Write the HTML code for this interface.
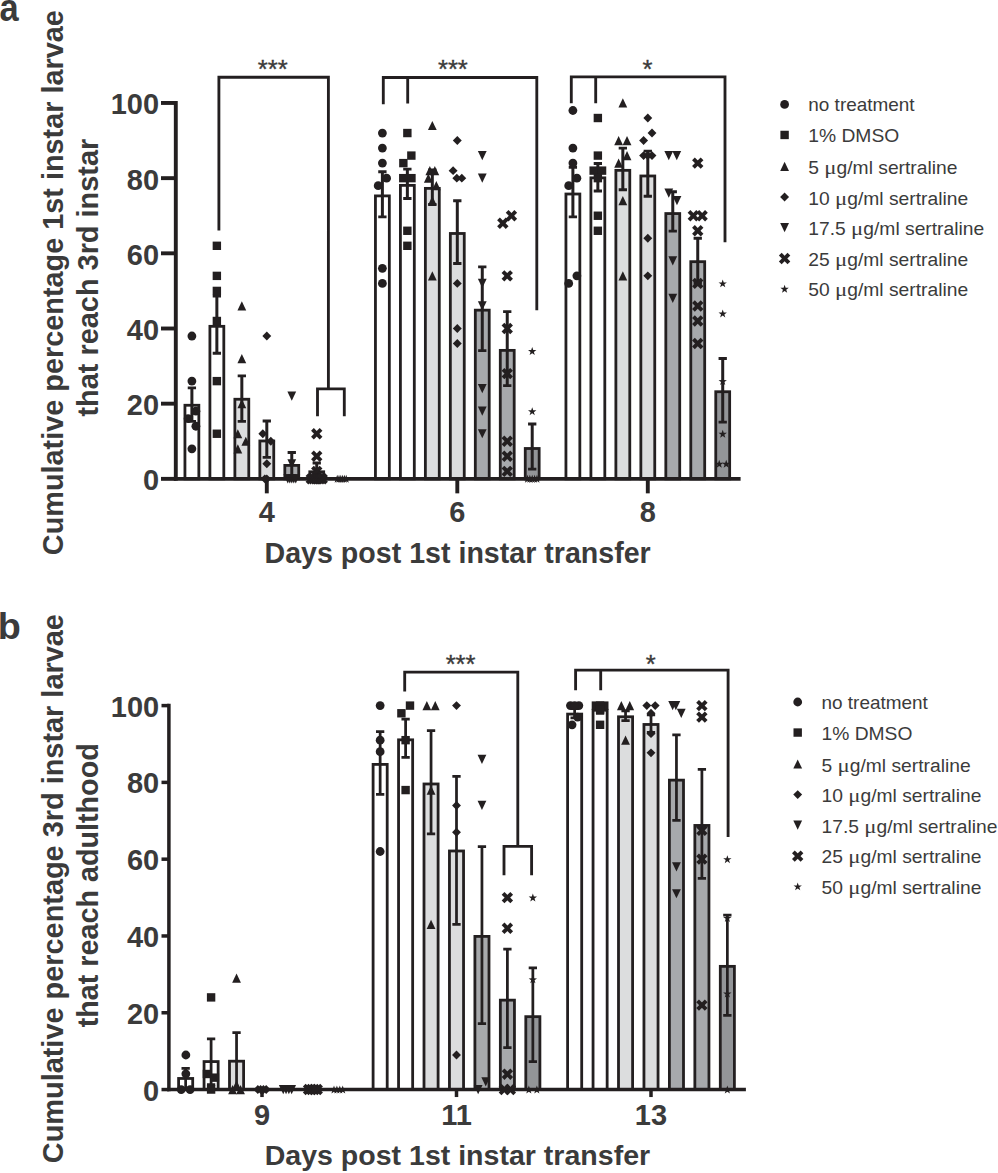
<!DOCTYPE html>
<html><head><meta charset="utf-8"><title>Figure</title>
<style>html,body{margin:0;padding:0;background:#fff}svg{display:block}</style></head>
<body><svg width="998" height="1173" viewBox="0 0 998 1173">
<rect width="998" height="1173" fill="#ffffff"/>
<rect x="184.94" y="405.26" width="13.90" height="73.59" fill="#ffffff" stroke="#231f20" stroke-width="2.8"/>
<rect x="209.91" y="326.33" width="13.90" height="152.52" fill="#ffffff" stroke="#231f20" stroke-width="2.8"/>
<rect x="234.88" y="399.25" width="13.90" height="79.60" fill="#dcddde" stroke="#231f20" stroke-width="2.8"/>
<rect x="259.85" y="440.97" width="13.90" height="37.88" fill="#dcddde" stroke="#231f20" stroke-width="2.8"/>
<rect x="284.82" y="465.40" width="13.90" height="13.45" fill="#a7a9ac" stroke="#231f20" stroke-width="2.8"/>
<rect x="309.79" y="471.79" width="13.90" height="7.06" fill="#a7a9ac" stroke="#231f20" stroke-width="2.8"/>
<rect x="375.44" y="195.90" width="13.90" height="282.95" fill="#ffffff" stroke="#231f20" stroke-width="2.8"/>
<rect x="400.41" y="185.37" width="13.90" height="293.48" fill="#ffffff" stroke="#231f20" stroke-width="2.8"/>
<rect x="425.38" y="188.38" width="13.90" height="290.47" fill="#dcddde" stroke="#231f20" stroke-width="2.8"/>
<rect x="450.35" y="233.48" width="13.90" height="245.37" fill="#dcddde" stroke="#231f20" stroke-width="2.8"/>
<rect x="475.32" y="310.16" width="13.90" height="168.69" fill="#a7a9ac" stroke="#231f20" stroke-width="2.8"/>
<rect x="500.29" y="350.38" width="13.90" height="128.47" fill="#a7a9ac" stroke="#231f20" stroke-width="2.8"/>
<rect x="525.26" y="448.49" width="13.90" height="30.36" fill="#939598" stroke="#231f20" stroke-width="2.8"/>
<rect x="565.94" y="194.02" width="13.90" height="284.83" fill="#ffffff" stroke="#231f20" stroke-width="2.8"/>
<rect x="590.91" y="177.85" width="13.90" height="301.00" fill="#ffffff" stroke="#231f20" stroke-width="2.8"/>
<rect x="615.88" y="170.34" width="13.90" height="308.51" fill="#dcddde" stroke="#231f20" stroke-width="2.8"/>
<rect x="640.85" y="175.98" width="13.90" height="302.87" fill="#dcddde" stroke="#231f20" stroke-width="2.8"/>
<rect x="665.82" y="213.56" width="13.90" height="265.29" fill="#a7a9ac" stroke="#231f20" stroke-width="2.8"/>
<rect x="690.79" y="261.68" width="13.90" height="217.17" fill="#a7a9ac" stroke="#231f20" stroke-width="2.8"/>
<rect x="715.76" y="391.73" width="13.90" height="87.12" fill="#939598" stroke="#231f20" stroke-width="2.8"/>
<g stroke="#231f20" fill="none">
<path stroke-width="3.0" d="M191.89 387.89V421.34"/><path stroke-width="2.9" d="M187.74 387.89H196.04M187.74 421.34H196.04"/>
<path stroke-width="3.0" d="M216.86 296.17V353.31"/><path stroke-width="2.9" d="M212.71 296.17H221.01M212.71 353.31H221.01"/>
<path stroke-width="3.0" d="M241.83 375.86V421.34"/><path stroke-width="2.9" d="M237.68 375.86H245.98M237.68 421.34H245.98"/>
<path stroke-width="3.0" d="M266.80 420.96V457.42"/><path stroke-width="2.9" d="M262.65 420.96H270.95M262.65 457.42H270.95"/>
<path stroke-width="3.0" d="M291.77 452.54V476.97"/><path stroke-width="2.9" d="M287.62 452.54H295.92M287.62 476.97H295.92"/>
<path stroke-width="3.0" d="M316.74 463.06V478.10"/><path stroke-width="2.9" d="M312.59 463.06H320.89M312.59 478.10H320.89"/>
<path stroke-width="3.0" d="M382.39 171.76V216.86"/><path stroke-width="2.9" d="M378.24 171.76H386.54M378.24 216.86H386.54"/>
<path stroke-width="3.0" d="M407.36 169.12V198.44"/><path stroke-width="2.9" d="M403.21 169.12H411.51M403.21 198.44H411.51"/>
<path stroke-width="3.0" d="M432.33 169.88V204.46"/><path stroke-width="2.9" d="M428.18 169.88H436.48M428.18 204.46H436.48"/>
<path stroke-width="3.0" d="M457.30 200.70V263.47"/><path stroke-width="2.9" d="M453.15 200.70H461.45M453.15 263.47H461.45"/>
<path stroke-width="3.0" d="M482.27 266.85V350.67"/><path stroke-width="2.9" d="M478.12 266.85H486.42M478.12 350.67H486.42"/>
<path stroke-width="3.0" d="M507.24 311.58V385.63"/><path stroke-width="2.9" d="M503.09 311.58H511.39M503.09 385.63H511.39"/>
<path stroke-width="3.0" d="M532.21 423.97V469.08"/><path stroke-width="2.9" d="M528.06 423.97H536.36M528.06 469.08H536.36"/>
<path stroke-width="3.0" d="M572.89 167.25V216.86"/><path stroke-width="2.9" d="M568.74 167.25H577.04M568.74 216.86H577.04"/>
<path stroke-width="3.0" d="M597.86 163.49V190.93"/><path stroke-width="2.9" d="M593.71 163.49H602.01M593.71 190.93H602.01"/>
<path stroke-width="3.0" d="M622.83 148.08V189.80"/><path stroke-width="2.9" d="M618.68 148.08H626.98M618.68 189.80H626.98"/>
<path stroke-width="3.0" d="M647.80 151.08V196.19"/><path stroke-width="2.9" d="M643.65 151.08H651.95M643.65 196.19H651.95"/>
<path stroke-width="3.0" d="M672.77 191.68V231.15"/><path stroke-width="2.9" d="M668.62 191.68H676.92M668.62 231.15H676.92"/>
<path stroke-width="3.0" d="M697.74 238.29V283.39"/><path stroke-width="2.9" d="M693.59 238.29H701.89M693.59 283.39H701.89"/>
<path stroke-width="3.0" d="M722.71 358.57V422.09"/><path stroke-width="2.9" d="M718.56 358.57H726.86M718.56 422.09H726.86"/>
</g>
<g stroke="#231f20" stroke-width="3.9" fill="none">
<path d="M175.80 101.02V480.80"/>
<path d="M173.85 478.85H740.60"/>
<path d="M161.00 478.85H175.80"/>
<path d="M161.00 403.67H175.80"/>
<path d="M161.00 328.50H175.80"/>
<path d="M161.00 253.32H175.80"/>
<path d="M161.00 178.15H175.80"/>
<path d="M161.00 102.97H175.80"/>
<path d="M266.80 478.85V493.35"/>
<path d="M457.30 478.85V493.35"/>
<path d="M647.80 478.85V493.35"/>
</g>
<g fill="#231f20">
<circle cx="191.89" cy="336.02" r="4.4"/>
<circle cx="191.89" cy="381.12" r="4.4"/>
<circle cx="195.89" cy="411.19" r="4.4"/>
<circle cx="188.09" cy="418.71" r="4.4"/>
<circle cx="195.89" cy="426.23" r="4.4"/>
<circle cx="191.89" cy="448.78" r="4.4"/>
<rect x="212.66" y="241.60" width="8.4" height="8.4"/>
<rect x="212.66" y="271.67" width="8.4" height="8.4"/>
<rect x="212.66" y="286.71" width="8.4" height="8.4"/>
<rect x="212.66" y="316.78" width="8.4" height="8.4"/>
<rect x="212.66" y="376.92" width="8.4" height="8.4"/>
<rect x="212.66" y="429.54" width="8.4" height="8.4"/>
<path d="M237.43 310.55L246.23 310.55L241.83 301.35Z"/>
<path d="M237.43 363.17L246.23 363.17L241.83 353.97Z"/>
<path d="M237.43 408.27L246.23 408.27L241.83 399.07Z"/>
<path d="M233.43 438.34L242.23 438.34L237.83 429.14Z"/>
<path d="M241.43 445.86L250.23 445.86L245.83 436.66Z"/>
<path d="M233.43 453.38L242.23 453.38L237.83 444.18Z"/>
<path d="M262.35 336.02L266.80 331.57L271.25 336.02L266.80 340.47Z"/>
<path d="M258.35 433.74L262.80 429.29L267.25 433.74L262.80 438.19Z"/>
<path d="M266.35 441.26L270.80 436.81L275.25 441.26L270.80 445.71Z"/>
<path d="M262.35 463.81L266.80 459.36L271.25 463.81L266.80 468.26Z"/>
<path d="M262.35 478.85L266.80 474.40L271.25 478.85L266.80 483.30Z"/>
<path d="M260.35 478.85L264.80 474.40L269.25 478.85L264.80 483.30Z"/>
<path d="M287.37 391.56L296.17 391.56L291.77 400.76Z"/>
<path d="M287.37 459.21L296.17 459.21L291.77 468.41Z"/>
<path d="M283.37 474.25L292.17 474.25L287.77 483.45Z"/>
<path d="M285.37 474.25L294.17 474.25L289.77 483.45Z"/>
<path d="M287.37 474.25L296.17 474.25L291.77 483.45Z"/>
<path d="M289.37 474.25L298.17 474.25L293.77 483.45Z"/>
<path d="M291.37 474.25L300.17 474.25L295.77 483.45Z"/>
<g transform="translate(316.74 433.74) rotate(45)"><rect x="-6.1" y="-1.95" width="12.2" height="3.9"/><rect x="-1.95" y="-6.1" width="3.9" height="12.2"/></g>
<g transform="translate(316.74 456.30) rotate(45)"><rect x="-6.1" y="-1.95" width="12.2" height="3.9"/><rect x="-1.95" y="-6.1" width="3.9" height="12.2"/></g>
<g transform="translate(316.74 471.33) rotate(45)"><rect x="-6.1" y="-1.95" width="12.2" height="3.9"/><rect x="-1.95" y="-6.1" width="3.9" height="12.2"/></g>
<g transform="translate(311.24 478.85) rotate(45)"><rect x="-6.1" y="-1.95" width="12.2" height="3.9"/><rect x="-1.95" y="-6.1" width="3.9" height="12.2"/></g>
<g transform="translate(313.44 478.85) rotate(45)"><rect x="-6.1" y="-1.95" width="12.2" height="3.9"/><rect x="-1.95" y="-6.1" width="3.9" height="12.2"/></g>
<g transform="translate(315.64 478.85) rotate(45)"><rect x="-6.1" y="-1.95" width="12.2" height="3.9"/><rect x="-1.95" y="-6.1" width="3.9" height="12.2"/></g>
<g transform="translate(317.84 478.85) rotate(45)"><rect x="-6.1" y="-1.95" width="12.2" height="3.9"/><rect x="-1.95" y="-6.1" width="3.9" height="12.2"/></g>
<g transform="translate(320.04 478.85) rotate(45)"><rect x="-6.1" y="-1.95" width="12.2" height="3.9"/><rect x="-1.95" y="-6.1" width="3.9" height="12.2"/></g>
<g transform="translate(322.24 478.85) rotate(45)"><rect x="-6.1" y="-1.95" width="12.2" height="3.9"/><rect x="-1.95" y="-6.1" width="3.9" height="12.2"/></g>
<path d="M337.21 474.85L338.24 477.83L341.39 477.89L338.87 479.79L339.80 482.81L337.21 481.00L334.62 482.81L335.55 479.79L333.03 477.89L336.18 477.83Z"/>
<path d="M339.01 474.85L340.04 477.83L343.19 477.89L340.67 479.79L341.60 482.81L339.01 481.00L336.42 482.81L337.35 479.79L334.83 477.89L337.98 477.83Z"/>
<path d="M340.81 474.85L341.84 477.83L344.99 477.89L342.47 479.79L343.40 482.81L340.81 481.00L338.22 482.81L339.15 479.79L336.63 477.89L339.78 477.83Z"/>
<path d="M342.61 474.85L343.64 477.83L346.79 477.89L344.27 479.79L345.20 482.81L342.61 481.00L340.02 482.81L340.95 479.79L338.43 477.89L341.58 477.83Z"/>
<path d="M344.41 474.85L345.44 477.83L348.59 477.89L346.07 479.79L347.00 482.81L344.41 481.00L341.82 482.81L342.75 479.79L340.23 477.89L343.38 477.83Z"/>
<path d="M346.21 474.85L347.24 477.83L350.39 477.89L347.87 479.79L348.80 482.81L346.21 481.00L343.62 482.81L344.55 479.79L342.03 477.89L345.18 477.83Z"/>
<circle cx="382.39" cy="133.04" r="4.4"/>
<circle cx="382.39" cy="148.08" r="4.4"/>
<circle cx="382.39" cy="163.11" r="4.4"/>
<circle cx="386.59" cy="178.15" r="4.4"/>
<circle cx="378.19" cy="185.66" r="4.4"/>
<circle cx="382.39" cy="268.36" r="4.4"/>
<circle cx="382.39" cy="283.39" r="4.4"/>
<rect x="403.16" y="128.84" width="8.4" height="8.4"/>
<rect x="407.16" y="151.39" width="8.4" height="8.4"/>
<rect x="399.16" y="158.91" width="8.4" height="8.4"/>
<rect x="399.06" y="173.95" width="8.4" height="8.4"/>
<rect x="407.26" y="173.95" width="8.4" height="8.4"/>
<rect x="403.16" y="226.57" width="8.4" height="8.4"/>
<rect x="403.16" y="241.60" width="8.4" height="8.4"/>
<path d="M427.93 130.12L436.73 130.12L432.33 120.92Z"/>
<path d="M425.43 175.23L434.23 175.23L429.83 166.03Z"/>
<path d="M430.43 175.23L439.23 175.23L434.83 166.03Z"/>
<path d="M423.93 182.75L432.73 182.75L428.33 173.55Z"/>
<path d="M431.93 190.26L440.73 190.26L436.33 181.06Z"/>
<path d="M427.93 205.30L436.73 205.30L432.33 196.10Z"/>
<path d="M427.93 280.47L436.73 280.47L432.33 271.27Z"/>
<path d="M452.85 140.56L457.30 136.11L461.75 140.56L457.30 145.01Z"/>
<path d="M448.65 170.63L453.10 166.18L457.55 170.63L453.10 175.08Z"/>
<path d="M452.35 178.15L456.80 173.70L461.25 178.15L456.80 182.60Z"/>
<path d="M457.35 178.15L461.80 173.70L466.25 178.15L461.80 182.60Z"/>
<path d="M452.85 283.39L457.30 278.94L461.75 283.39L457.30 287.84Z"/>
<path d="M452.85 328.50L457.30 324.05L461.75 328.50L457.30 332.95Z"/>
<path d="M452.85 343.53L457.30 339.08L461.75 343.53L457.30 347.98Z"/>
<path d="M477.87 150.99L486.67 150.99L482.27 160.19Z"/>
<path d="M477.87 173.55L486.67 173.55L482.27 182.75Z"/>
<path d="M477.87 278.79L486.67 278.79L482.27 287.99Z"/>
<path d="M477.87 301.35L486.67 301.35L482.27 310.55Z"/>
<path d="M477.87 384.04L486.67 384.04L482.27 393.24Z"/>
<path d="M477.87 406.59L486.67 406.59L482.27 415.79Z"/>
<path d="M477.87 429.14L486.67 429.14L482.27 438.34Z"/>
<g transform="translate(511.44 215.73) rotate(45)"><rect x="-6.1" y="-1.95" width="12.2" height="3.9"/><rect x="-1.95" y="-6.1" width="3.9" height="12.2"/></g>
<g transform="translate(502.84 223.25) rotate(45)"><rect x="-6.1" y="-1.95" width="12.2" height="3.9"/><rect x="-1.95" y="-6.1" width="3.9" height="12.2"/></g>
<g transform="translate(507.24 275.87) rotate(45)"><rect x="-6.1" y="-1.95" width="12.2" height="3.9"/><rect x="-1.95" y="-6.1" width="3.9" height="12.2"/></g>
<g transform="translate(507.24 328.50) rotate(45)"><rect x="-6.1" y="-1.95" width="12.2" height="3.9"/><rect x="-1.95" y="-6.1" width="3.9" height="12.2"/></g>
<g transform="translate(507.24 373.60) rotate(45)"><rect x="-6.1" y="-1.95" width="12.2" height="3.9"/><rect x="-1.95" y="-6.1" width="3.9" height="12.2"/></g>
<g transform="translate(507.24 441.26) rotate(45)"><rect x="-6.1" y="-1.95" width="12.2" height="3.9"/><rect x="-1.95" y="-6.1" width="3.9" height="12.2"/></g>
<g transform="translate(507.24 456.30) rotate(45)"><rect x="-6.1" y="-1.95" width="12.2" height="3.9"/><rect x="-1.95" y="-6.1" width="3.9" height="12.2"/></g>
<g transform="translate(507.24 471.33) rotate(45)"><rect x="-6.1" y="-1.95" width="12.2" height="3.9"/><rect x="-1.95" y="-6.1" width="3.9" height="12.2"/></g>
<path d="M532.21 347.05L533.24 350.04L536.39 350.09L533.87 351.99L534.80 355.01L532.21 353.20L529.62 355.01L530.55 351.99L528.03 350.09L531.18 350.04Z"/>
<path d="M532.21 407.19L533.24 410.18L536.39 410.23L533.87 412.13L534.80 415.15L532.21 413.34L529.62 415.15L530.55 412.13L528.03 410.23L531.18 410.18Z"/>
<path d="M527.46 474.85L528.49 477.83L531.64 477.89L529.12 479.79L530.05 482.81L527.46 481.00L524.87 482.81L525.80 479.79L523.28 477.89L526.43 477.83Z"/>
<path d="M529.84 474.85L530.86 477.83L534.02 477.89L531.50 479.79L532.42 482.81L529.84 481.00L527.25 482.81L528.17 479.79L525.65 477.89L528.81 477.83Z"/>
<path d="M532.21 474.85L533.24 477.83L536.39 477.89L533.87 479.79L534.80 482.81L532.21 481.00L529.62 482.81L530.55 479.79L528.03 477.89L531.18 477.83Z"/>
<path d="M534.59 474.85L535.61 477.83L538.77 477.89L536.25 479.79L537.17 482.81L534.59 481.00L532.00 482.81L532.92 479.79L530.40 477.89L533.56 477.83Z"/>
<path d="M536.96 474.85L537.99 477.83L541.14 477.89L538.62 479.79L539.55 482.81L536.96 481.00L534.37 482.81L535.30 479.79L532.78 477.89L535.93 477.83Z"/>
<circle cx="572.89" cy="110.49" r="4.4"/>
<circle cx="572.89" cy="148.08" r="4.4"/>
<circle cx="572.89" cy="163.11" r="4.4"/>
<circle cx="576.89" cy="178.15" r="4.4"/>
<circle cx="568.69" cy="185.66" r="4.4"/>
<circle cx="576.89" cy="275.87" r="4.4"/>
<circle cx="568.69" cy="283.39" r="4.4"/>
<rect x="593.66" y="113.81" width="8.4" height="8.4"/>
<rect x="593.66" y="151.39" width="8.4" height="8.4"/>
<rect x="589.46" y="166.43" width="8.4" height="8.4"/>
<rect x="597.86" y="166.43" width="8.4" height="8.4"/>
<rect x="593.66" y="173.95" width="8.4" height="8.4"/>
<rect x="593.66" y="211.53" width="8.4" height="8.4"/>
<rect x="593.66" y="226.57" width="8.4" height="8.4"/>
<path d="M618.43 107.57L627.23 107.57L622.83 98.37Z"/>
<path d="M614.23 145.16L623.03 145.16L618.63 135.96Z"/>
<path d="M622.63 145.16L631.43 145.16L627.03 135.96Z"/>
<path d="M622.63 160.19L631.43 160.19L627.03 150.99Z"/>
<path d="M614.23 167.71L623.03 167.71L618.63 158.51Z"/>
<path d="M618.43 205.30L627.23 205.30L622.83 196.10Z"/>
<path d="M618.43 280.47L627.23 280.47L622.83 271.27Z"/>
<path d="M643.35 118.01L647.80 113.56L652.25 118.01L647.80 122.46Z"/>
<path d="M647.55 133.04L652.00 128.59L656.45 133.04L652.00 137.49Z"/>
<path d="M639.15 140.56L643.60 136.11L648.05 140.56L643.60 145.01Z"/>
<path d="M639.15 155.59L643.60 151.14L648.05 155.59L643.60 160.04Z"/>
<path d="M647.55 155.59L652.00 151.14L656.45 155.59L652.00 160.04Z"/>
<path d="M643.35 155.59L647.80 151.14L652.25 155.59L647.80 160.04Z"/>
<path d="M643.35 238.29L647.80 233.84L652.25 238.29L647.80 242.74Z"/>
<path d="M643.35 275.87L647.80 271.42L652.25 275.87L647.80 280.32Z"/>
<path d="M664.37 150.99L673.17 150.99L668.77 160.19Z"/>
<path d="M672.37 150.99L681.17 150.99L676.77 160.19Z"/>
<path d="M664.37 188.58L673.17 188.58L668.77 197.78Z"/>
<path d="M672.57 196.10L681.37 196.10L676.97 205.30Z"/>
<path d="M668.37 256.24L677.17 256.24L672.77 265.44Z"/>
<path d="M668.37 293.83L677.17 293.83L672.77 303.03Z"/>
<g transform="translate(697.74 163.11) rotate(45)"><rect x="-6.1" y="-1.95" width="12.2" height="3.9"/><rect x="-1.95" y="-6.1" width="3.9" height="12.2"/></g>
<g transform="translate(693.34 215.73) rotate(45)"><rect x="-6.1" y="-1.95" width="12.2" height="3.9"/><rect x="-1.95" y="-6.1" width="3.9" height="12.2"/></g>
<g transform="translate(702.14 215.73) rotate(45)"><rect x="-6.1" y="-1.95" width="12.2" height="3.9"/><rect x="-1.95" y="-6.1" width="3.9" height="12.2"/></g>
<g transform="translate(697.74 230.77) rotate(45)"><rect x="-6.1" y="-1.95" width="12.2" height="3.9"/><rect x="-1.95" y="-6.1" width="3.9" height="12.2"/></g>
<g transform="translate(697.74 283.39) rotate(45)"><rect x="-6.1" y="-1.95" width="12.2" height="3.9"/><rect x="-1.95" y="-6.1" width="3.9" height="12.2"/></g>
<g transform="translate(697.74 305.95) rotate(45)"><rect x="-6.1" y="-1.95" width="12.2" height="3.9"/><rect x="-1.95" y="-6.1" width="3.9" height="12.2"/></g>
<g transform="translate(697.74 320.98) rotate(45)"><rect x="-6.1" y="-1.95" width="12.2" height="3.9"/><rect x="-1.95" y="-6.1" width="3.9" height="12.2"/></g>
<g transform="translate(697.74 343.53) rotate(45)"><rect x="-6.1" y="-1.95" width="12.2" height="3.9"/><rect x="-1.95" y="-6.1" width="3.9" height="12.2"/></g>
<path d="M722.71 279.39L723.74 282.38L726.89 282.43L724.37 284.33L725.30 287.35L722.71 285.54L720.12 287.35L721.05 284.33L718.53 282.43L721.68 282.38Z"/>
<path d="M722.71 309.46L723.74 312.45L726.89 312.50L724.37 314.40L725.30 317.42L722.71 315.61L720.12 317.42L721.05 314.40L718.53 312.50L721.68 312.45Z"/>
<path d="M722.71 377.12L723.74 380.11L726.89 380.16L724.37 382.06L725.30 385.08L722.71 383.27L720.12 385.08L721.05 382.06L718.53 380.16L721.68 380.11Z"/>
<path d="M722.71 429.74L723.74 432.73L726.89 432.78L724.37 434.69L725.30 437.70L722.71 435.89L720.12 437.70L721.05 434.69L718.53 432.78L721.68 432.73Z"/>
<path d="M719.21 459.81L720.24 462.80L723.39 462.86L720.87 464.76L721.80 467.77L719.21 465.96L716.62 467.77L717.55 464.76L715.03 462.86L718.18 462.80Z"/>
<path d="M726.21 459.81L727.24 462.80L730.39 462.86L727.87 464.76L728.80 467.77L726.21 465.96L723.62 467.77L724.55 464.76L722.03 462.86L725.18 462.80Z"/>
</g>
<g stroke="#231f20" stroke-width="2.85" fill="none" stroke-linejoin="miter">
<path d="M218.9 230.5V77.2H328.4V388.8M317.5 416.3V388.8H344.3V416.3"/>
<path d="M383.3 104.2V77.5H536.8V310.3M407.7 77.5V103.5"/>
<path d="M571.3 103.3V76.9H725V242.3M595.7 76.9V103.3"/>
</g>
<g font-family="Liberation Sans, sans-serif" font-weight="bold" font-size="29.0" fill="#3b3b3b">
<text transform="translate(159.10 490.35) scale(1 1.025)" text-anchor="end">0</text>
<text transform="translate(159.10 415.17) scale(1 1.025)" text-anchor="end">20</text>
<text transform="translate(159.10 340.00) scale(1 1.025)" text-anchor="end">40</text>
<text transform="translate(159.10 264.82) scale(1 1.025)" text-anchor="end">60</text>
<text transform="translate(159.10 189.65) scale(1 1.025)" text-anchor="end">80</text>
<text transform="translate(159.10 114.47) scale(1 1.025)" text-anchor="end">100</text>
<text transform="translate(266.80 521.80) scale(1 1.025)" text-anchor="middle">4</text>
<text transform="translate(457.30 521.80) scale(1 1.025)" text-anchor="middle">6</text>
<text transform="translate(647.80 521.80) scale(1 1.025)" text-anchor="middle">8</text>
</g>
<rect x="178.60" y="1078.47" width="14.10" height="11.08" fill="#ffffff" stroke="#231f20" stroke-width="2.8"/>
<rect x="204.05" y="1061.58" width="14.10" height="27.97" fill="#ffffff" stroke="#231f20" stroke-width="2.8"/>
<rect x="229.50" y="1061.19" width="14.10" height="28.36" fill="#dcddde" stroke="#231f20" stroke-width="2.8"/>
<rect x="373.10" y="764.40" width="14.10" height="325.15" fill="#ffffff" stroke="#231f20" stroke-width="2.8"/>
<rect x="398.55" y="739.83" width="14.10" height="349.72" fill="#ffffff" stroke="#231f20" stroke-width="2.8"/>
<rect x="424.00" y="783.98" width="14.10" height="305.57" fill="#dcddde" stroke="#231f20" stroke-width="2.8"/>
<rect x="449.45" y="850.98" width="14.10" height="238.57" fill="#dcddde" stroke="#231f20" stroke-width="2.8"/>
<rect x="474.90" y="936.41" width="14.10" height="153.14" fill="#a7a9ac" stroke="#231f20" stroke-width="2.8"/>
<rect x="500.35" y="1000.15" width="14.10" height="89.40" fill="#a7a9ac" stroke="#231f20" stroke-width="2.8"/>
<rect x="525.80" y="1016.66" width="14.10" height="72.89" fill="#939598" stroke="#231f20" stroke-width="2.8"/>
<rect x="567.60" y="714.10" width="14.10" height="375.45" fill="#ffffff" stroke="#231f20" stroke-width="2.8"/>
<rect x="593.05" y="710.26" width="14.10" height="379.29" fill="#ffffff" stroke="#231f20" stroke-width="2.8"/>
<rect x="618.50" y="716.79" width="14.10" height="372.76" fill="#dcddde" stroke="#231f20" stroke-width="2.8"/>
<rect x="643.95" y="724.47" width="14.10" height="365.08" fill="#dcddde" stroke="#231f20" stroke-width="2.8"/>
<rect x="669.40" y="780.14" width="14.10" height="309.41" fill="#a7a9ac" stroke="#231f20" stroke-width="2.8"/>
<rect x="694.85" y="825.45" width="14.10" height="264.10" fill="#a7a9ac" stroke="#231f20" stroke-width="2.8"/>
<rect x="720.30" y="966.36" width="14.10" height="123.19" fill="#939598" stroke="#231f20" stroke-width="2.8"/>
<g stroke="#231f20" fill="none">
<path stroke-width="2.75" d="M185.65 1068.43V1088.40"/><path stroke-width="2.75" d="M181.50 1068.43H189.80M181.50 1088.40H189.80"/>
<path stroke-width="2.75" d="M211.10 1038.87V1084.56"/><path stroke-width="2.75" d="M206.95 1038.87H215.25M206.95 1084.56H215.25"/>
<path stroke-width="2.75" d="M236.55 1032.53V1088.78"/><path stroke-width="2.75" d="M232.40 1032.53H240.70M232.40 1088.78H240.70"/>
<path stroke-width="2.75" d="M380.15 731.71V794.29"/><path stroke-width="2.75" d="M376.00 731.71H384.30M376.00 794.29H384.30"/>
<path stroke-width="2.75" d="M405.60 719.04V757.43"/><path stroke-width="2.75" d="M401.45 719.04H409.75M401.45 757.43H409.75"/>
<path stroke-width="2.75" d="M431.05 730.56V833.84"/><path stroke-width="2.75" d="M426.90 730.56H435.20M426.90 833.84H435.20"/>
<path stroke-width="2.75" d="M456.50 776.25V924.45"/><path stroke-width="2.75" d="M452.35 776.25H460.65M452.35 924.45H460.65"/>
<path stroke-width="2.75" d="M481.95 846.51V1023.51"/><path stroke-width="2.75" d="M477.80 846.51H486.10M477.80 1023.51H486.10"/>
<path stroke-width="2.75" d="M507.40 949.02V1047.70"/><path stroke-width="2.75" d="M503.25 949.02H511.55M503.25 1047.70H511.55"/>
<path stroke-width="2.75" d="M532.85 967.84V1061.52"/><path stroke-width="2.75" d="M528.70 967.84H537.00M528.70 1061.52H537.00"/>
<path stroke-width="2.75" d="M574.65 708.67V717.89"/><path stroke-width="2.75" d="M570.50 708.67H578.80M570.50 717.89H578.80"/>
<path stroke-width="2.75" d="M600.10 705.60V713.28"/><path stroke-width="2.75" d="M595.95 705.60H604.25M595.95 713.28H604.25"/>
<path stroke-width="2.75" d="M625.55 710.98V720.57"/><path stroke-width="2.75" d="M621.40 710.98H629.70M621.40 720.57H629.70"/>
<path stroke-width="2.75" d="M651.00 714.81V732.48"/><path stroke-width="2.75" d="M646.85 714.81H655.15M646.85 732.48H655.15"/>
<path stroke-width="2.75" d="M676.45 734.78V820.40"/><path stroke-width="2.75" d="M672.30 734.78H680.60M672.30 820.40H680.60"/>
<path stroke-width="2.75" d="M701.90 769.34V878.38"/><path stroke-width="2.75" d="M697.75 769.34H706.05M697.75 878.38H706.05"/>
<path stroke-width="2.75" d="M727.35 915.24V1015.45"/><path stroke-width="2.75" d="M723.20 915.24H731.50M723.20 1015.45H731.50"/>
</g>
<g stroke="#231f20" stroke-width="3.5" fill="none">
<path d="M168.90 703.85V1091.30"/>
<path d="M167.15 1089.55H745.90"/>
<path d="M161.50 1089.55H168.90"/>
<path d="M161.50 1012.76H168.90"/>
<path d="M161.50 935.97H168.90"/>
<path d="M161.50 859.18H168.90"/>
<path d="M161.50 782.39H168.90"/>
<path d="M161.50 705.60H168.90"/>
<path d="M262.00 1089.55V1097.05"/>
<path d="M456.50 1089.55V1097.05"/>
<path d="M651.00 1089.55V1097.05"/>
</g>
<g fill="#231f20">
<circle cx="185.85" cy="1054.99" r="4.4"/>
<circle cx="185.85" cy="1073.81" r="4.4"/>
<circle cx="181.20" cy="1089.55" r="4.4"/>
<circle cx="190.10" cy="1089.55" r="4.4"/>
<rect x="206.90" y="993.20" width="8.4" height="8.4"/>
<rect x="202.70" y="1069.80" width="8.4" height="8.4"/>
<rect x="210.70" y="1073.45" width="8.4" height="8.4"/>
<rect x="206.90" y="1085.35" width="8.4" height="8.4"/>
<path d="M232.15 982.80L240.95 982.80L236.55 973.60Z"/>
<path d="M228.15 1094.15L236.95 1094.15L232.55 1084.95Z"/>
<path d="M236.15 1094.15L244.95 1094.15L240.55 1084.95Z"/>
<path d="M232.15 1089.54L240.95 1089.54L236.55 1080.34Z"/>
<path d="M253.35 1089.55L257.80 1085.10L262.25 1089.55L257.80 1094.00Z"/>
<path d="M256.15 1089.55L260.60 1085.10L265.05 1089.55L260.60 1094.00Z"/>
<path d="M258.95 1089.55L263.40 1085.10L267.85 1089.55L263.40 1094.00Z"/>
<path d="M261.75 1089.55L266.20 1085.10L270.65 1089.55L266.20 1094.00Z"/>
<path d="M278.85 1084.95L287.65 1084.95L283.25 1094.15Z"/>
<path d="M281.65 1084.95L290.45 1084.95L286.05 1094.15Z"/>
<path d="M284.45 1084.95L293.25 1084.95L288.85 1094.15Z"/>
<path d="M287.25 1084.95L296.05 1084.95L291.65 1094.15Z"/>
<g transform="translate(308.55 1089.55) rotate(45)"><rect x="-6.1" y="-1.95" width="12.2" height="3.9"/><rect x="-1.95" y="-6.1" width="3.9" height="12.2"/></g>
<g transform="translate(311.45 1089.55) rotate(45)"><rect x="-6.1" y="-1.95" width="12.2" height="3.9"/><rect x="-1.95" y="-6.1" width="3.9" height="12.2"/></g>
<g transform="translate(314.35 1089.55) rotate(45)"><rect x="-6.1" y="-1.95" width="12.2" height="3.9"/><rect x="-1.95" y="-6.1" width="3.9" height="12.2"/></g>
<g transform="translate(317.25 1089.55) rotate(45)"><rect x="-6.1" y="-1.95" width="12.2" height="3.9"/><rect x="-1.95" y="-6.1" width="3.9" height="12.2"/></g>
<path d="M334.00 1085.55L335.03 1088.53L338.18 1088.59L335.66 1090.49L336.59 1093.51L334.00 1091.70L331.41 1093.51L332.34 1090.49L329.82 1088.59L332.97 1088.53Z"/>
<path d="M336.90 1085.55L337.93 1088.53L341.08 1088.59L338.56 1090.49L339.49 1093.51L336.90 1091.70L334.31 1093.51L335.24 1090.49L332.72 1088.59L335.87 1088.53Z"/>
<path d="M339.80 1085.55L340.83 1088.53L343.98 1088.59L341.46 1090.49L342.39 1093.51L339.80 1091.70L337.21 1093.51L338.14 1090.49L335.62 1088.59L338.77 1088.53Z"/>
<path d="M342.70 1085.55L343.73 1088.53L346.88 1088.59L344.36 1090.49L345.29 1093.51L342.70 1091.70L340.11 1093.51L341.04 1090.49L338.52 1088.59L341.67 1088.53Z"/>
<circle cx="380.15" cy="705.60" r="4.4"/>
<circle cx="380.15" cy="740.16" r="4.4"/>
<circle cx="380.15" cy="751.67" r="4.4"/>
<circle cx="380.15" cy="851.50" r="4.4"/>
<rect x="405.80" y="701.40" width="8.4" height="8.4"/>
<rect x="397.20" y="709.08" width="8.4" height="8.4"/>
<rect x="401.40" y="735.96" width="8.4" height="8.4"/>
<rect x="401.40" y="785.87" width="8.4" height="8.4"/>
<path d="M422.45 710.20L431.25 710.20L426.85 701.00Z"/>
<path d="M430.85 710.20L439.65 710.20L435.25 701.00Z"/>
<path d="M426.65 794.67L435.45 794.67L431.05 785.47Z"/>
<path d="M426.65 929.05L435.45 929.05L431.05 919.85Z"/>
<path d="M452.05 705.60L456.50 701.15L460.95 705.60L456.50 710.05Z"/>
<path d="M452.05 805.43L456.50 800.98L460.95 805.43L456.50 809.88Z"/>
<path d="M452.05 832.30L456.50 827.85L460.95 832.30L456.50 836.75Z"/>
<path d="M452.05 1054.99L456.50 1050.54L460.95 1054.99L456.50 1059.44Z"/>
<path d="M477.55 754.75L486.35 754.75L481.95 763.95Z"/>
<path d="M477.55 800.83L486.35 800.83L481.95 810.03Z"/>
<path d="M481.35 1077.27L490.15 1077.27L485.75 1086.47Z"/>
<path d="M473.75 1084.95L482.55 1084.95L478.15 1094.15Z"/>
<g transform="translate(507.40 897.57) rotate(45)"><rect x="-6.1" y="-1.95" width="12.2" height="3.9"/><rect x="-1.95" y="-6.1" width="3.9" height="12.2"/></g>
<g transform="translate(507.40 928.29) rotate(45)"><rect x="-6.1" y="-1.95" width="12.2" height="3.9"/><rect x="-1.95" y="-6.1" width="3.9" height="12.2"/></g>
<g transform="translate(507.40 1074.19) rotate(45)"><rect x="-6.1" y="-1.95" width="12.2" height="3.9"/><rect x="-1.95" y="-6.1" width="3.9" height="12.2"/></g>
<g transform="translate(504.40 1089.55) rotate(45)"><rect x="-6.1" y="-1.95" width="12.2" height="3.9"/><rect x="-1.95" y="-6.1" width="3.9" height="12.2"/></g>
<g transform="translate(510.40 1089.55) rotate(45)"><rect x="-6.1" y="-1.95" width="12.2" height="3.9"/><rect x="-1.95" y="-6.1" width="3.9" height="12.2"/></g>
<path d="M532.85 893.57L533.88 896.56L537.03 896.62L534.51 898.52L535.44 901.53L532.85 899.72L530.26 901.53L531.19 898.52L528.67 896.62L531.82 896.56Z"/>
<path d="M532.85 975.36L533.88 978.34L537.03 978.40L534.51 980.30L535.44 983.32L532.85 981.51L530.26 983.32L531.19 980.30L528.67 978.40L531.82 978.34Z"/>
<path d="M528.85 1085.55L529.88 1088.53L533.03 1088.59L530.51 1090.49L531.44 1093.51L528.85 1091.70L526.26 1093.51L527.19 1090.49L524.67 1088.59L527.82 1088.53Z"/>
<path d="M536.85 1085.55L537.88 1088.53L541.03 1088.59L538.51 1090.49L539.44 1093.51L536.85 1091.70L534.26 1093.51L535.19 1090.49L532.67 1088.59L535.82 1088.53Z"/>
<circle cx="570.45" cy="705.60" r="4.4"/>
<circle cx="578.85" cy="705.60" r="4.4"/>
<circle cx="574.65" cy="705.60" r="4.4"/>
<circle cx="577.65" cy="717.12" r="4.4"/>
<circle cx="572.05" cy="724.80" r="4.4"/>
<rect x="591.70" y="701.40" width="8.4" height="8.4"/>
<rect x="600.10" y="701.40" width="8.4" height="8.4"/>
<rect x="595.90" y="701.40" width="8.4" height="8.4"/>
<rect x="595.90" y="705.24" width="8.4" height="8.4"/>
<rect x="595.90" y="720.60" width="8.4" height="8.4"/>
<path d="M616.95 710.20L625.75 710.20L621.35 701.00Z"/>
<path d="M625.35 710.20L634.15 710.20L629.75 701.00Z"/>
<path d="M621.15 744.76L629.95 744.76L625.55 735.56Z"/>
<path d="M642.35 705.60L646.80 701.15L651.25 705.60L646.80 710.05Z"/>
<path d="M650.75 705.60L655.20 701.15L659.65 705.60L655.20 710.05Z"/>
<path d="M646.55 713.28L651.00 708.83L655.45 713.28L651.00 717.73Z"/>
<path d="M646.55 733.63L651.00 729.18L655.45 733.63L651.00 738.08Z"/>
<path d="M646.55 752.83L651.00 748.38L655.45 752.83L651.00 757.28Z"/>
<path d="M668.25 701.00L677.05 701.00L672.65 710.20Z"/>
<path d="M671.45 701.00L680.25 701.00L675.85 710.20Z"/>
<path d="M676.85 708.68L685.65 708.68L681.25 717.88Z"/>
<path d="M672.05 862.26L680.85 862.26L676.45 871.46Z"/>
<path d="M672.05 889.14L680.85 889.14L676.45 898.34Z"/>
<g transform="translate(701.90 705.60) rotate(45)"><rect x="-6.1" y="-1.95" width="12.2" height="3.9"/><rect x="-1.95" y="-6.1" width="3.9" height="12.2"/></g>
<g transform="translate(701.90 717.12) rotate(45)"><rect x="-6.1" y="-1.95" width="12.2" height="3.9"/><rect x="-1.95" y="-6.1" width="3.9" height="12.2"/></g>
<g transform="translate(701.90 830.38) rotate(45)"><rect x="-6.1" y="-1.95" width="12.2" height="3.9"/><rect x="-1.95" y="-6.1" width="3.9" height="12.2"/></g>
<g transform="translate(701.90 859.18) rotate(45)"><rect x="-6.1" y="-1.95" width="12.2" height="3.9"/><rect x="-1.95" y="-6.1" width="3.9" height="12.2"/></g>
<g transform="translate(701.90 1005.08) rotate(45)"><rect x="-6.1" y="-1.95" width="12.2" height="3.9"/><rect x="-1.95" y="-6.1" width="3.9" height="12.2"/></g>
<path d="M727.35 855.18L728.38 858.16L731.53 858.22L729.01 860.12L729.94 863.14L727.35 861.33L724.76 863.14L725.69 860.12L723.17 858.22L726.32 858.16Z"/>
<path d="M727.35 913.92L728.38 916.91L731.53 916.96L729.01 918.87L729.94 921.88L727.35 920.07L724.76 921.88L725.69 918.87L723.17 916.96L726.32 916.91Z"/>
<path d="M727.35 989.56L728.38 992.55L731.53 992.60L729.01 994.50L729.94 997.52L727.35 995.71L724.76 997.52L725.69 994.50L723.17 992.60L726.32 992.55Z"/>
<path d="M727.35 1085.55L728.38 1088.53L731.53 1088.59L729.01 1090.49L729.94 1093.51L727.35 1091.70L724.76 1093.51L725.69 1090.49L723.17 1088.59L726.32 1088.53Z"/>
</g>
<g stroke="#231f20" stroke-width="2.85" fill="none" stroke-linejoin="miter">
<path d="M404.7 691.6V672.1H517.8V846.3M504.0 875.2V846.3H531.6V875.2"/>
<path d="M575.6 690.2V670.1H728.1V837M600.7 670.1V690.2"/>
</g>
<g font-family="Liberation Sans, sans-serif" font-weight="bold" font-size="29.0" fill="#3b3b3b">
<text transform="translate(159.20 1100.55) scale(1 1.04)" text-anchor="end">0</text>
<text transform="translate(159.20 1023.76) scale(1 1.04)" text-anchor="end">20</text>
<text transform="translate(159.20 946.97) scale(1 1.04)" text-anchor="end">40</text>
<text transform="translate(159.20 870.18) scale(1 1.04)" text-anchor="end">60</text>
<text transform="translate(159.20 793.39) scale(1 1.04)" text-anchor="end">80</text>
<text transform="translate(159.20 716.60) scale(1 1.04)" text-anchor="end">100</text>
<text transform="translate(262.00 1125.00) scale(1 1.04)" text-anchor="middle">9</text>
<text transform="translate(456.50 1125.00) scale(1 1.04)" text-anchor="middle">11</text>
<text transform="translate(651.00 1125.00) scale(1 1.04)" text-anchor="middle">13</text>
</g>
<g fill="#231f20">
<circle cx="784.60" cy="104.40" r="4.4"/>
<rect x="780.40" y="130.75" width="8.4" height="8.4"/>
<path d="M780.20 171.00L789.00 171.00L784.60 161.80Z"/>
<path d="M780.15 197.00L784.60 192.55L789.05 197.00L784.60 201.45Z"/>
<path d="M780.20 223.00L789.00 223.00L784.60 232.20Z"/>
<g transform="translate(784.60 258.50) rotate(45)"><rect x="-6.1" y="-1.95" width="12.2" height="3.9"/><rect x="-1.95" y="-6.1" width="3.9" height="12.2"/></g>
<path d="M784.60 284.80L785.63 287.78L788.78 287.84L786.26 289.74L787.19 292.76L784.60 290.95L782.01 292.76L782.94 289.74L780.42 287.84L783.57 287.78Z"/>
</g>
<g font-family="Liberation Sans, sans-serif" font-size="19.25" fill="#3b3b3b">
<text x="808.3" y="111.30" font-size="18.95">no treatment</text>
<text x="808.3" y="142.07">1% DMSO</text>
<text x="808.3" y="174.10">5 </text>
<text transform="translate(824.35 174.10) scale(1.22 1)" font-family="Liberation Serif, serif" font-size="18.6">μ</text>
<text x="836.55" y="174.10">g/ml sertraline</text>
<text x="808.3" y="204.70">10 </text>
<text transform="translate(835.06 204.70) scale(1.22 1)" font-family="Liberation Serif, serif" font-size="18.6">μ</text>
<text x="847.26" y="204.70">g/ml sertraline</text>
<text x="808.3" y="235.30">17.5 </text>
<text transform="translate(851.11 235.30) scale(1.22 1)" font-family="Liberation Serif, serif" font-size="18.6">μ</text>
<text x="863.31" y="235.30">g/ml sertraline</text>
<text x="808.3" y="265.80">25 </text>
<text transform="translate(835.06 265.80) scale(1.22 1)" font-family="Liberation Serif, serif" font-size="18.6">μ</text>
<text x="847.26" y="265.80">g/ml sertraline</text>
<text x="808.3" y="296.30">50 </text>
<text transform="translate(835.06 296.30) scale(1.22 1)" font-family="Liberation Serif, serif" font-size="18.6">μ</text>
<text x="847.26" y="296.30">g/ml sertraline</text>
</g>
<g fill="#231f20">
<circle cx="797.70" cy="702.00" r="4.4"/>
<rect x="793.50" y="728.35" width="8.4" height="8.4"/>
<path d="M793.30 768.60L802.10 768.60L797.70 759.40Z"/>
<path d="M793.25 794.60L797.70 790.15L802.15 794.60L797.70 799.05Z"/>
<path d="M793.30 820.60L802.10 820.60L797.70 829.80Z"/>
<g transform="translate(797.70 856.10) rotate(45)"><rect x="-6.1" y="-1.95" width="12.2" height="3.9"/><rect x="-1.95" y="-6.1" width="3.9" height="12.2"/></g>
<path d="M797.70 882.40L798.73 885.38L801.88 885.44L799.36 887.34L800.29 890.36L797.70 888.55L795.11 890.36L796.04 887.34L793.52 885.44L796.67 885.38Z"/>
</g>
<g font-family="Liberation Sans, sans-serif" font-size="19.25" fill="#3b3b3b">
<text x="821.5" y="708.90" font-size="18.95">no treatment</text>
<text x="821.5" y="739.67">1% DMSO</text>
<text x="821.5" y="771.70">5 </text>
<text transform="translate(837.55 771.70) scale(1.22 1)" font-family="Liberation Serif, serif" font-size="18.6">μ</text>
<text x="849.75" y="771.70">g/ml sertraline</text>
<text x="821.5" y="802.30">10 </text>
<text transform="translate(848.26 802.30) scale(1.22 1)" font-family="Liberation Serif, serif" font-size="18.6">μ</text>
<text x="860.46" y="802.30">g/ml sertraline</text>
<text x="821.5" y="832.90">17.5 </text>
<text transform="translate(864.31 832.90) scale(1.22 1)" font-family="Liberation Serif, serif" font-size="18.6">μ</text>
<text x="876.51" y="832.90">g/ml sertraline</text>
<text x="821.5" y="863.40">25 </text>
<text transform="translate(848.26 863.40) scale(1.22 1)" font-family="Liberation Serif, serif" font-size="18.6">μ</text>
<text x="860.46" y="863.40">g/ml sertraline</text>
<text x="821.5" y="893.90">50 </text>
<text transform="translate(848.26 893.90) scale(1.22 1)" font-family="Liberation Serif, serif" font-size="18.6">μ</text>
<text x="860.46" y="893.90">g/ml sertraline</text>
</g>
<g font-family="Liberation Sans, sans-serif" font-weight="bold" fill="#3b3b3b">
<text transform="translate(-0.45 20.5) scale(0.9 1)" font-size="38.3">a</text>
<text x="-2.2" y="639.2" font-size="37.8">b</text>
<text transform="translate(457.65 563.2) scale(1 1)" font-size="28.6" text-anchor="middle">Days post 1st instar transfer</text>
<text transform="translate(457.4 1165.4) scale(1 1)" font-size="28.55" text-anchor="middle">Days post 1st instar transfer</text>
<text transform="translate(62.9 282.65) rotate(-90) scale(1 1.01)" font-size="28.85" text-anchor="middle">Cumulative percentage 1st instar larvae</text>
<text transform="translate(97.6 277.65) rotate(-90) scale(1 1.01)" font-size="28.9" text-anchor="middle">that reach 3rd instar</text>
<text transform="translate(62.7 888.65) rotate(-90) scale(1 1.01)" font-size="28.9" text-anchor="middle">Cumulative percentage 3rd instar larvae</text>
<text transform="translate(97.5 885.3) rotate(-90) scale(1 1.01)" font-size="28.75" text-anchor="middle">that reach adulthood</text>
</g>
<g font-family="Liberation Sans, sans-serif" font-size="25.6" fill="#3b3b3b" stroke="#3b3b3b" stroke-width="0.35" text-anchor="middle">
<text x="272.8" y="78">***</text>
<text x="452.9" y="78">***</text>
<text x="647.6" y="78">*</text>
<text x="460.6" y="673">***</text>
<text x="650.7" y="673">*</text>
</g>
</svg></body></html>
